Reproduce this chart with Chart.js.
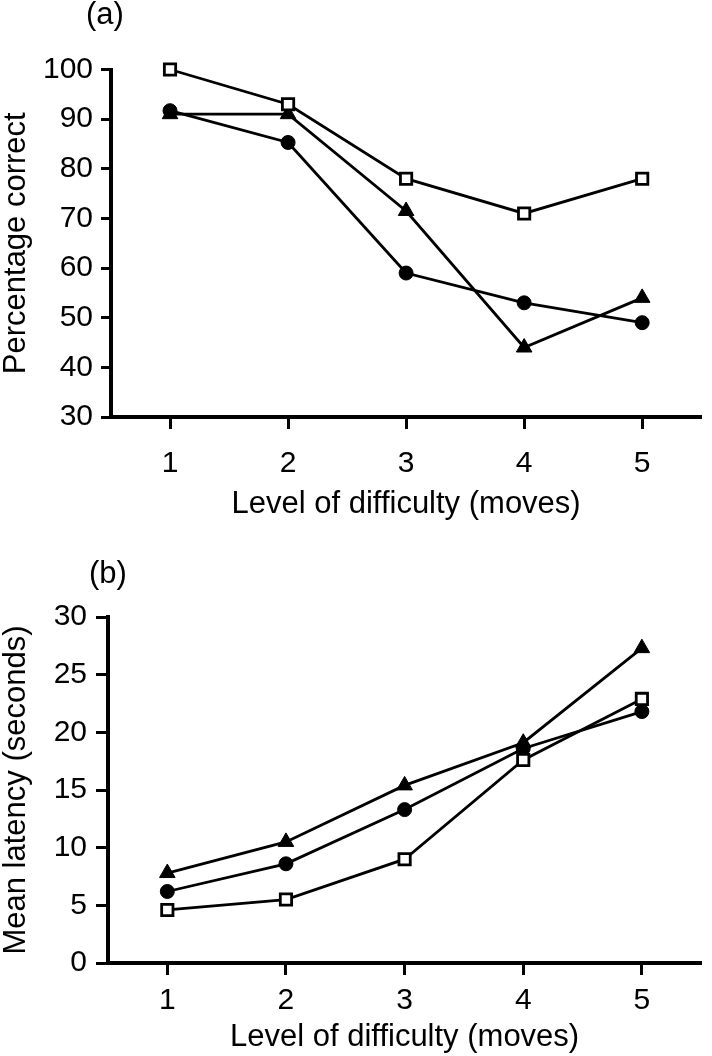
<!DOCTYPE html>
<html><head><meta charset="utf-8">
<script src="https://cdn.jsdelivr.net/npm/chart.js@4"></script>
<style>
html,body{margin:0;padding:0;background:#fff;}
#wrap{position:relative;width:712px;height:1056px;overflow:hidden;font-family:"Liberation Sans",Arial,sans-serif;background:#fff;}
canvas{position:absolute;left:0;}
.panel{position:absolute;font-size:31px;line-height:31px;color:#000;white-space:nowrap;}
</style></head><body>
<div id="wrap">
<canvas id="ca" width="712" height="540" style="top:0"></canvas>
<canvas id="cb" width="712" height="516" style="top:540px"></canvas>
<div class="panel" style="left:86px;top:-2px">(a)</div>
<div class="panel" style="left:89px;top:557px">(b)</div>
</div>
<script>
// ---- data ----
const levels = [1, 2, 3, 4, 5];
const xTicks = [1, 2, 3, 4, 5];
const xTitle = 'Level of difficulty (moves)';

const accSquare   = [100, 93, 78, 71, 78];
const accTriangle = [91, 91, 71.5, 44, 54];
const accCircle   = [91.7, 85.3, 59, 53, 49];
const accTicks    = [30, 40, 50, 60, 70, 80, 90, 100];
const accTitle    = 'Percentage correct';

const latSquare   = [4.6, 5.5, 9.0, 17.6, 22.9];
const latTriangle = [7.8, 10.5, 15.4, 19.1, 27.3];
const latCircle   = [6.2, 8.6, 13.3, 18.6, 21.8];
const latTicks    = [0, 5, 10, 15, 20, 25, 30];
const latTitle    = 'Mean latency (seconds)';

const FONT = '"Liberation Sans", Arial, sans-serif';
Chart.defaults.font.family = FONT;
Chart.defaults.color = '#000';

function toPts(arr) { return arr.map((v, i) => ({ x: levels[i], y: v })); }
function ds(arr, style) {
  return Object.assign({
    data: toPts(arr), borderColor: '#000', borderWidth: 2.8,
    pointBorderColor: '#000', clip: false, tension: 0
  }, style);
}

function makeChart(id, c) {
  new Chart(document.getElementById(id), {
    type: 'line',
    data: { datasets: [
      ds(c.sq,  { pointStyle: 'rect', pointRadius: 8, pointBackgroundColor: '#fff', pointBorderWidth: 2.8 }),
      ds(c.tri, { pointStyle: 'triangle', pointRadius: 9, pointBackgroundColor: '#000', pointBorderWidth: 1 }),
      ds(c.cir, { pointStyle: 'circle', pointRadius: 7, pointBackgroundColor: '#000', pointBorderWidth: 1 })
    ]},
    options: {
      responsive: false, animation: false, events: [],
      layout: { padding: { top: c.top, left: 0, right: 0, bottom: 0 } },
      plugins: { legend: { display: false }, tooltip: { enabled: false } },
      scales: {
        x: {
          type: 'linear', min: 0.5, max: 5.5,
          afterBuildTicks: s => { s.ticks = xTicks.map(v => ({ value: v })); },
          afterFit: s => { s.height = c.xh; },
          grid: { drawOnChartArea: false, drawTicks: true, tickLength: 12, tickWidth: 3, tickColor: '#000' },
          border: { display: true, color: '#000', width: 4 },
          ticks: { font: { size: 30 }, color: '#000', padding: c.xpad, maxRotation: 0, autoSkip: false },
          title: { display: true, text: xTitle, font: { size: 31 }, color: '#000', padding: { top: 0, bottom: c.tpb } }
        },
        y: {
          type: 'linear', min: c.ymin, max: c.ymax,
          afterBuildTicks: s => { s.ticks = c.yTicks.map(v => ({ value: v })); },
          afterFit: s => { s.width = c.yw; },
          grid: { drawOnChartArea: false, drawTicks: true, tickLength: c.ytl, tickWidth: 3, tickColor: '#000' },
          border: { display: true, color: '#000', width: 4 },
          ticks: { font: { size: 30 }, color: '#000', padding: c.ypad, autoSkip: false },
          title: { display: true, text: c.yTitle, font: { size: 31 }, color: '#000', padding: { top: -2, bottom: 0 } }
        }
      }
    }
  });
}

makeChart('ca', { sq: accSquare, tri: accTriangle, cir: accCircle,
  ymin: 30, ymax: 100, yTicks: accTicks, yTitle: accTitle,
  top: 69.5, xh: 123, xpad: 16.5, tpb: 17.4, yw: 111, ytl: 10, ypad: 8 });

makeChart('cb', { sq: latSquare, tri: latTriangle, cir: latCircle,
  ymin: 0, ymax: 30, yTicks: latTicks, yTitle: latTitle,
  top: 77, xh: 93, xpad: 8, tpb: 0, yw: 108, ytl: 12, ypad: 9 });
</script>
</body></html>
